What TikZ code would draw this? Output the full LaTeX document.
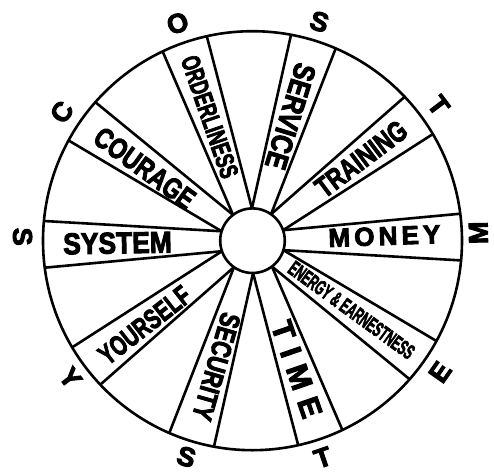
\documentclass[tikz,border=0pt]{standalone}
\usepackage{fontspec}
\setmainfont{Liberation Sans}[BoldFeatures={FakeBold=3.5}]
\usepackage{graphicx}

\tikzset{
  wheel line/.style={line width=2.6pt},
  band label/.style={inner sep=0pt, font=\bfseries\fontsize{#1}{#1}\selectfont},
  rim letter/.style={inner sep=0pt, font=\bfseries\fontsize{27}{27}\selectfont},
}

\begin{document}
\begin{tikzpicture}[x=1pt, y=1pt]
  \useasboundingbox (-252.5,-234.3) rectangle (241.5,240.7);
  \draw[wheel line] (0,0) circle (209.5);
  \node[wheel line, draw, circle, fill=white, minimum size=64.6pt,
        inner sep=0pt, outer sep=0pt] (hub) at (0,0) {};
  \foreach \a [evaluate=\a as \up using int(\a+18),
               evaluate=\a as \dn using int(\a-18)] in {1,37,...,325} {
    \draw[wheel line] (hub.\up) -- (\a+6.4:209.5);
    \draw[wheel line] (hub.\dn) -- (\a-6.4:209.5);
  }
  \node[band label=26, rotate=-71] (orderliness) at (109:131) {\scalebox{0.68}[1]{ORDERLINESS}};
  \node[band label=30, rotate=-107] (service) at (73:130) {\scalebox{0.83}[1]{SERVICE}};
  \node[band label=29, rotate=37] (training) at (37:136) {\scalebox{0.76}[1]{TRAINING}};
  \node[band label=26, rotate=2] (money) at (2:132) {\addfontfeature{LetterSpace=16}MONEY};
  \node[band label=21, rotate=-36] (energy) at (-35:121) {\scalebox{0.55}[1]{ENERGY \& EARNESTNESS}};
  \node[band label=30, rotate=-71] (time) at (-71:136) {\addfontfeature{LetterSpace=32}TIME};
  \node[band label=28, rotate=-106] (security) at (254:131) {\scalebox{0.78}[1]{SECURITY}};
  \node[band label=28, rotate=38] (yourself) at (218:137) {\scalebox{0.71}[1]{YOURSELF}};
  \node[band label=30, rotate=1] (system) at (181:135) {\scalebox{0.88}[1]{SYSTEM}};
  \node[band label=29, rotate=-36] (courage) at (146:130) {\scalebox{0.79}[1]{COURAGE}};
  \foreach \a/\l/\r/\d [count=\i] in {146/C/55/230, 109/O/19/230, 73/S/-17/229, 36/T/-53/230,
                                      2/M/91/226, 325/E/55/229, 288/T/19/228, 253/S/-17/226,
                                      217/Y/-53/228, 179/S/-89/230}
    \node[rim letter, rotate=\r] (rim\i) at (\a:\d) {\l};
\end{tikzpicture}
\end{document}
